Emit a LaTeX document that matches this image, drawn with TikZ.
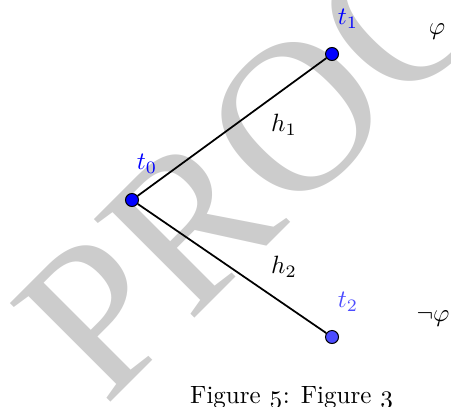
\documentclass[tikz,border=0pt]{standalone}
\usepackage{fontspec}
\setmainfont{Latin Modern Roman}
\newfontfamily\wmfont{Liberation Serif}
\definecolor{wm}{gray}{0.8}
\definecolor{lblue}{rgb}{0.3,0.3,1}
\begin{document}
\begin{tikzpicture}[x=0.4pt,y=-0.4pt,
  dot/.style={circle,draw=black,line width=0.4pt,inner sep=0pt,minimum size=5.2pt},
  edge/.style={line width=0.7pt},
  lbl/.style={inner sep=0pt}]
\useasboundingbox (0,0) rectangle (451,406);
\node[text=wm,rotate=45,anchor=base west,inner sep=0pt,font=\wmfont\fontsize{86pt}{86pt}\selectfont] (wmark) at (105,408) {PROOF};
\node[dot,fill=blue] (t0) at (132,200) {};
\node[dot,fill=blue] (t1) at (332,54) {};
\node[dot,fill=lblue] (t2) at (332,337) {};
\draw[edge] (t0) -- (t1);
\draw[edge] (t0) -- (t2);
\node[lbl,text=blue] (l0) at (147,164) {$t_0$};
\node[lbl,text=blue] (l1) at (348,19) {$t_1$};
\node[lbl,text=lblue] (l2) at (348,302) {$t_2$};
\node[lbl] (h1) at (284,125) {$h_1$};
\node[lbl] (h2) at (284,267) {$h_2$};
\node[lbl] (phi) at (437,32) {$\varphi$};
\node[lbl] (nphi) at (433,319) {$\neg\varphi$};
\node[lbl,anchor=base] (cap) at (292,403) {Figure \oldstylenums{5}: Figure \oldstylenums{3}};
\end{tikzpicture}
\end{document}
